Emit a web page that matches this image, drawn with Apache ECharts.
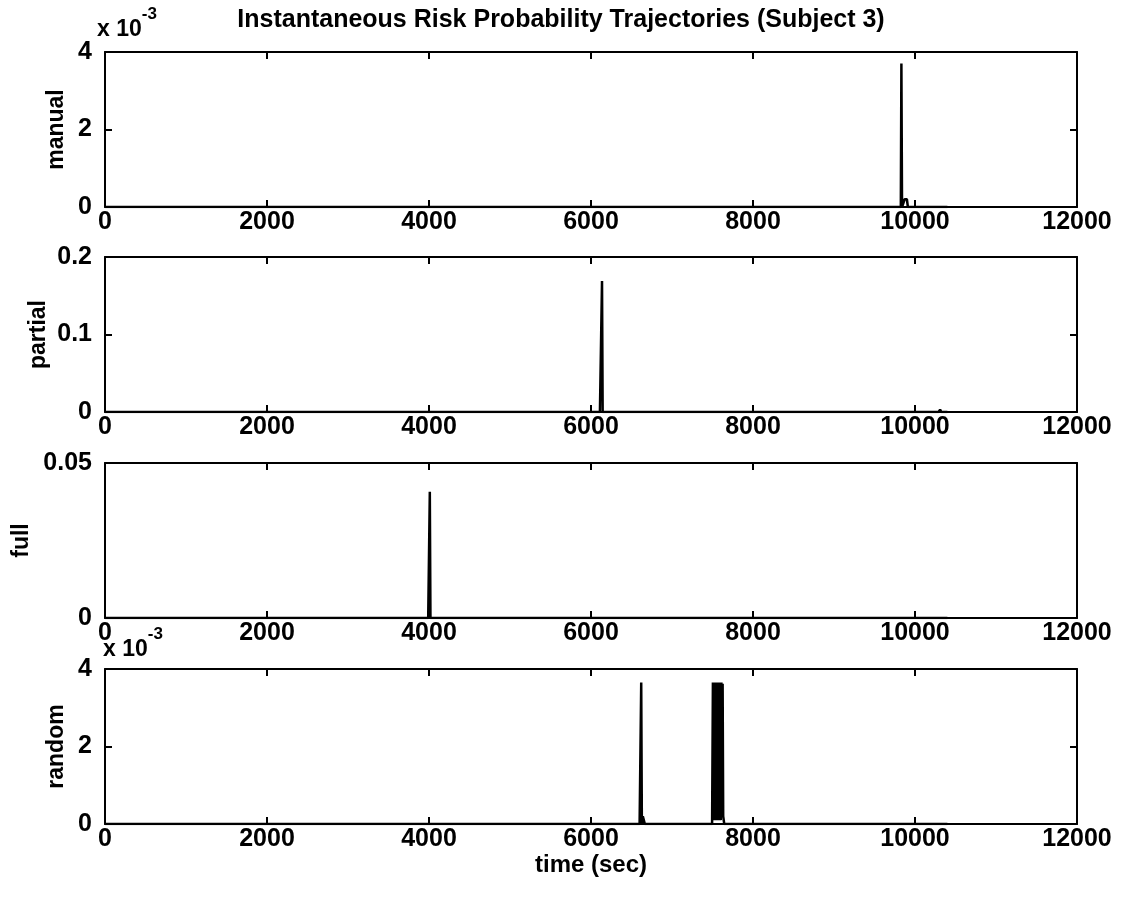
<!DOCTYPE html>
<html>
<head>
<meta charset="utf-8">
<script src="https://cdn.jsdelivr.net/npm/echarts@6/dist/echarts.min.js"></script>
<style>
  html, body { margin: 0; padding: 0; background: #fff; }
  #root { width: 1122px; height: 898px; }
</style>
</head>
<body>
<div id="root"></div>
<script>
// time (sec) / probability pairs
const manualT = [0, 9800, 9825, 9832, 9840, 9860, 9872, 9880, 9900, 9912, 10400]
const manualV = [0, 0, 0, 0.0037, 0, 0, 0.0002, 0.0002, 0.0002, 0, 0]

const partialT = [0, 6110, 6128, 6136, 6144, 10290, 10310, 10325, 10400]
const partialV = [0, 0, 0, 0.169, 0, 0, 0.003, 0, 0]

const fullT = [0, 3990, 4002, 4010, 4018, 10400]
const fullV = [0, 0, 0, 0.0407, 0, 0]

const randomT = [0, 6600, 6612, 6620, 6628, 6640, 6652, 6665, 6675,
  7495, 7505, 7512, 7520, 7528, 7535, 7542, 7550, 7558, 7565, 7572,
  7580, 7588, 7595, 7602, 7610, 7618, 7625, 7632, 7645, 10400]
const randomV = [0, 0, 0, 0.00365, 0, 0.0002, 0.0002, 0, 0,
  0, 0.00365, 0.0001, 0.00365, 0.0002, 0.00365, 0.0001, 0.00365, 0.0003, 0.00365, 0.0001,
  0.00365, 0.0002, 0.00365, 0.0001, 0.00365, 0.0002, 0.00362, 0.0002, 0, 0]

const panelNames = ['manual', 'partial', 'full', 'random']
const yMax = [0.004, 0.2, 0.05, 0.004]
const yStep = [0.002, 0.1, 0.05, 0.002]
const yScale = [1000, 1, 1, 1000]
const nameGaps = [37, 55, 72, 37]

const toPairs = (t, v) => t.map((x, i) => [x, v[i]])
const seriesData = [
  toPairs(manualT, manualV),
  toPairs(partialT, partialV),
  toPairs(fullT, fullV),
  toPairs(randomT, randomV)
]

const tops = [52, 257, 463, 669]
const H = 155
const font = 'Liberation Sans, Arial, sans-serif'
const black = '#000'

const grids = [], xAxes = [], yAxes = [], series = []
tops.forEach((top, i) => {
  grids.push({ left: 105, right: 45, top, height: H, show: false })
  const line = { show: true, onZero: false, lineStyle: { color: black, width: 2 } }
  const tick = { show: true, inside: true, length: 7, lineStyle: { color: black, width: 2 } }
  xAxes.push({
    type: 'value', gridIndex: i, min: 0, max: 12000, interval: 2000,
    axisLine: line, axisTick: tick, splitLine: { show: false },
    axisLabel: {
      color: black, fontFamily: font, fontWeight: 'bold', fontSize: 25, margin: 3,
      formatter: v => String(v)
    },
    name: i === 3 ? 'time (sec)' : '',
    nameLocation: 'middle', nameGap: 29,
    nameTextStyle: { color: black, fontFamily: font, fontWeight: 'bold', fontSize: 24 }
  })
  xAxes.push({
    type: 'value', gridIndex: i, position: 'top', min: 0, max: 12000, interval: 2000,
    axisLine: line, axisTick: tick, axisLabel: { show: false }, splitLine: { show: false }
  })
  yAxes.push({
    type: 'value', gridIndex: i, min: 0, max: yMax[i], interval: yStep[i],
    axisLine: line, axisTick: tick, splitLine: { show: false },
    axisLabel: {
      color: black, fontFamily: font, fontWeight: 'bold', fontSize: 25, margin: 13,
      formatter: v => String(Math.round(v * yScale[i] * 100) / 100)
    },
    name: panelNames[i], nameLocation: 'middle', nameRotate: 90,
    nameGap: nameGaps[i], nameMoveOverlap: false,
    nameTextStyle: { color: black, fontFamily: font, fontWeight: 'bold', fontSize: 23 }
  })
  yAxes.push({
    type: 'value', gridIndex: i, position: 'right', min: 0, max: yMax[i], interval: yStep[i],
    axisLine: line, axisTick: tick, axisLabel: { show: false }, splitLine: { show: false }
  })
  series.push({
    type: 'line', xAxisIndex: i * 2, yAxisIndex: i * 2, data: seriesData[i],
    showSymbol: false, silent: true,
    lineStyle: { color: black, width: 2.5 }
  })
})

const expText = (left, top) => ({
  type: 'text', left, top,
  style: {
    text: '{b|x 10}{s|-3}',
    rich: {
      b: { fontFamily: font, fontWeight: 'bold', fontSize: 23, fill: black, padding: [12, 0, 0, 0] },
      s: { fontFamily: font, fontWeight: 'bold', fontSize: 17, fill: black, verticalAlign: 'top' }
    }
  }
})

const chart = echarts.init(document.getElementById('root'))
chart.setOption({
  animation: false,
  backgroundColor: '#fff',
  title: {
    text: 'Instantaneous Risk Probability Trajectories (Subject 3)',
    left: 'center', top: 3,
    textStyle: { color: black, fontFamily: font, fontWeight: 'bold', fontSize: 25 }
  },
  grid: grids,
  xAxis: xAxes,
  yAxis: yAxes,
  series,
  graphic: [expText(97, 6), expText(103, 626)]
})
</script>
</body>
</html>
